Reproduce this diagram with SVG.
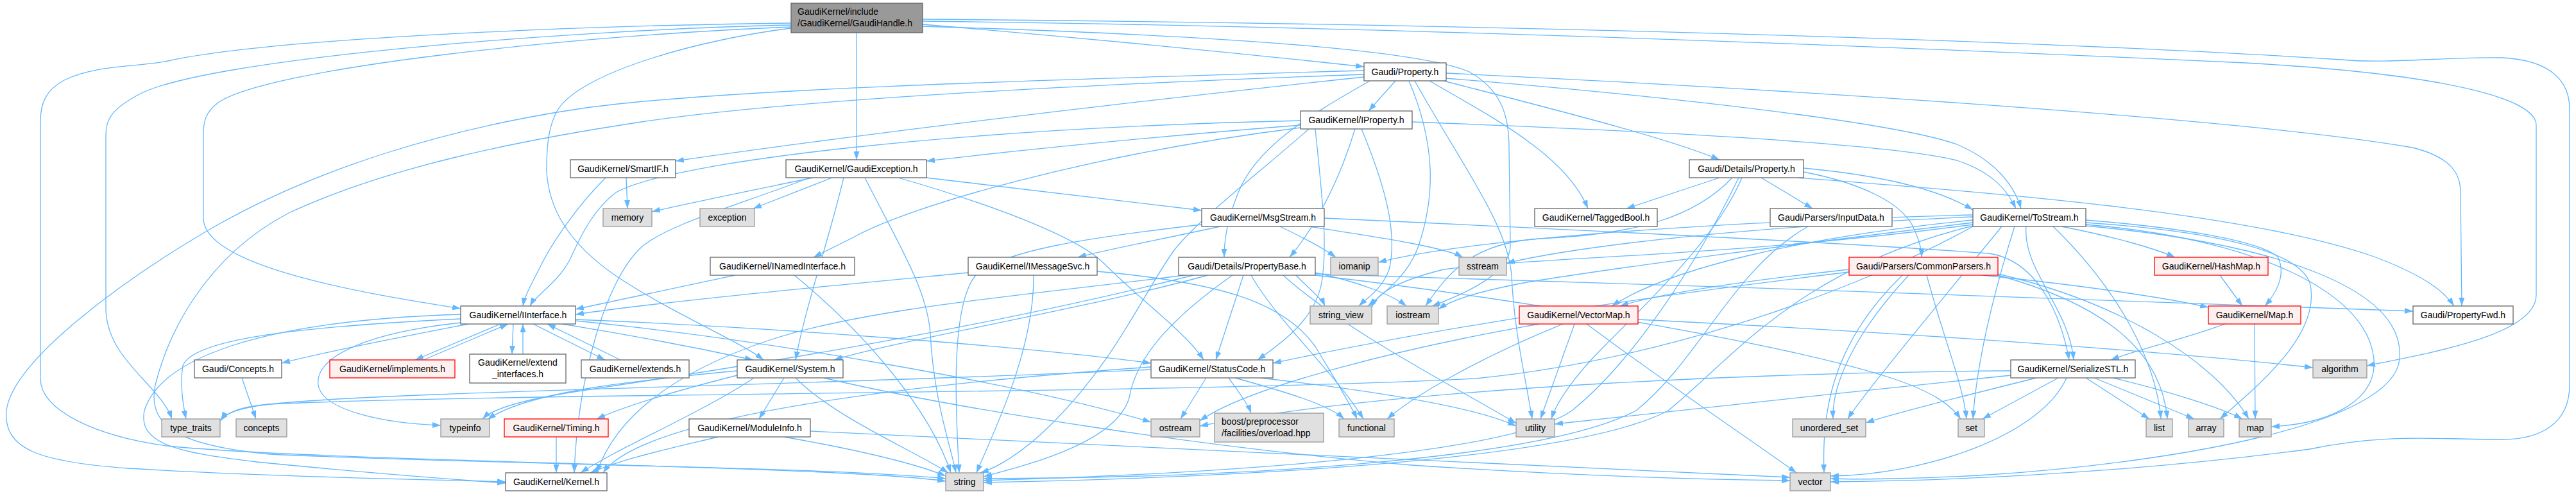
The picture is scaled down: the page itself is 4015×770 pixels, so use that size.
<svg xmlns="http://www.w3.org/2000/svg" width="4015" height="770" viewBox="0 0 4015 770">
<defs>
<style>
.e path{fill:none;stroke:#63b8ff;stroke-width:1.3;marker-end:url(#ah)}
.nd rect{fill:#fff;stroke:#666;stroke-width:1.3}
.gr rect{fill:#e0e0e0;stroke:#999;stroke-width:1.3}
.rd rect{fill:#fff0f0;stroke:#f00;stroke-width:1.3}
.rt rect{fill:#999;stroke:#666;stroke-width:1.3}
text{font-family:"Liberation Sans",Arial,Helvetica,sans-serif;font-size:14px;fill:#000}
.c{text-anchor:middle}
</style>
<marker id="ah" viewBox="0 0 13 9" refX="13" refY="4.5" markerWidth="13" markerHeight="9" markerUnits="userSpaceOnUse" orient="auto"><path d="M0,0L13,4.5L0,9z" fill="#63b8ff" stroke="none"/></marker>
</defs>
<rect x="0" y="0" width="4015" height="770" fill="#fff"/>
<g id="edges" class="e">
<path d="M1438,38 C1700,60 1950,85 2126,104"/>
<path d="M1335,51 L1335,249"/>
<path d="M1233,42 C900,55 420,105 340,160 C320,175 317,190 317,210 L317,340 C317,420 600,462 718,481"/>
<path d="M1233,44 C1100,60 910,110 870,170 C855,195 852,225 852,267 C855,320 880,375 960,430 C1050,490 1150,530 1190,561"/>
<path d="M1438,33 C2200,42 3000,75 3500,98 C3850,118 3953,160 3953,195 L3953,460 C3953,520 3800,548 3689,570"/>
<path d="M1438,30 C2200,36 3100,58 3650,93 C3720,100 3820,88 3900,90 C3980,94 4005,130 4005,170 L4005,600 C4005,660 3960,685 3900,685 C3800,685 3720,675 3600,700 C3300,740 3000,750 2853,751"/>
<path d="M1438,41 C1800,52 2200,72 2290,112 C2340,140 2352,180 2352,230 L2354,380 C2356,425 2290,455 2232,477"/>
<path d="M1233,36 C900,40 420,60 262,95 C215,105 150,100 100,125 C72,140 63,160 63,190 L63,590 C63,640 150,680 260,695 C500,720 1300,725 1474,750"/>
<path d="M1233,39 C900,46 320,90 215,148 C175,170 165,185 165,210 L165,480 C165,560 250,600 268,653"/>
<path d="M2175,126 L2133,173"/>
<path d="M2126,120 C1700,165 1300,215 1053,251"/>
<path d="M2250,126 C2420,170 2600,215 2680,249"/>
<path d="M2228,126 C2320,180 2440,240 2475,325"/>
<path d="M2135,126 C2050,175 1960,225 1930,300 C1912,345 1908,375 1908,401"/>
<path d="M2196,126 C2240,230 2235,310 2212,380 C2198,425 2160,455 2132,477"/>
<path d="M2205,126 C2280,260 2350,350 2356,430 C2360,520 2380,600 2388,653"/>
<path d="M2254,122 C2600,150 2950,190 3050,225 C3110,250 3140,290 3150,325"/>
<path d="M2254,114 C2800,140 3500,185 3760,230 C3820,245 3835,270 3835,300 L3837,477"/>
<path d="M2126,110 C1600,125 1100,140 900,170 C700,200 500,260 340,350 C200,430 20,560 10,640 C5,700 60,720 200,730 C450,745 700,748 788,751"/>
<path d="M2126,116 C1600,135 1200,160 1000,190 C800,220 600,262 450,332 C320,400 262,520 242,600 C228,670 290,695 420,708 C800,725 1300,728 1474,746"/>
<path d="M2027,188 C1500,200 1050,250 960,300 C920,330 900,380 888,405 C870,440 835,460 826,477"/>
<path d="M2027,195 C1800,213 1600,233 1444,251"/>
<path d="M2027,199 C1700,240 1420,320 1330,370 C1300,385 1280,395 1268,401"/>
<path d="M2112,201 C2085,290 2045,360 2010,401"/>
<path d="M2122,201 C2155,280 2180,360 2165,420 C2155,450 2130,465 2118,477"/>
<path d="M2201,190 C2600,205 2950,225 3050,250 C3110,270 3130,300 3142,325"/>
<path d="M2050,201 C2060,300 2070,380 2060,440 C2050,500 1990,540 1960,561"/>
<path d="M2040,201 C1950,280 1870,340 1830,390 C1780,460 1740,560 1640,660 C1590,710 1550,730 1528,737"/>
<path d="M976,277 L978,325"/>
<path d="M944,277 C900,320 860,380 845,410 C830,440 818,460 815,477"/>
<path d="M1267,277 C1180,295 1080,315 1016,330"/>
<path d="M1297,277 L1174,325"/>
<path d="M1444,277 L1873,328"/>
<path d="M1262,277 C1150,320 1040,350 1000,385 C940,440 900,600 895,737"/>
<path d="M1315,277 C1290,380 1255,480 1240,561"/>
<path d="M1400,277 C1550,320 1680,370 1720,410 C1780,470 1850,520 1876,561"/>
<path d="M1348,277 C1400,380 1445,450 1450,520 C1455,620 1480,690 1490,737"/>
<path d="M2680,277 L2535,325"/>
<path d="M2745,277 L2825,325"/>
<path d="M2811,262 C2950,275 3030,300 3075,327"/>
<path d="M2802,277 C3100,300 3500,330 3700,400 C3780,430 3810,455 3825,477"/>
<path d="M2811,268 C2900,285 2960,315 2980,350 C2990,370 2995,385 2995,401"/>
<path d="M2700,277 C2640,340 2550,365 2400,372 C2300,378 2260,420 2222,477"/>
<path d="M2715,277 C2680,360 2600,440 2500,540 C2450,590 2425,630 2418,653"/>
<path d="M2710,277 C2650,400 2550,560 2450,640 C2350,710 1900,738 1533,749"/>
<path d="M1902,353 C1800,375 1720,390 1680,401"/>
<path d="M1873,350 C1700,370 1560,390 1520,430 C1480,480 1490,650 1495,737"/>
<path d="M1995,353 C2030,370 2060,385 2082,401"/>
<path d="M2040,353 C2150,370 2250,385 2280,401"/>
<path d="M2064,340 C2500,360 2900,380 3100,395 C3170,405 3210,480 3225,561"/>
<path d="M3213,353 C3300,370 3360,388 3390,401"/>
<path d="M3251,343 C3400,355 3520,375 3550,400 C3565,430 3545,460 3530,477"/>
<path d="M3158,353 C3152,420 3225,480 3232,561"/>
<path d="M3075,343 C2800,370 2600,420 2512,477"/>
<path d="M3075,335 C2700,345 2300,370 2148,409"/>
<path d="M3075,338 C2800,350 2500,375 2348,410"/>
<path d="M3075,347 C2800,380 2500,420 2380,440 C2300,455 2262,468 2242,482"/>
<path d="M3075,350 C2700,400 2400,400 2250,420 C2170,440 2145,460 2138,479"/>
<path d="M3075,352 C2800,420 2700,560 2600,640 C2450,720 1900,745 1533,752"/>
<path d="M3075,353 C2900,450 2600,560 2300,590 C1800,615 800,612 420,630 C370,634 352,645 343,656"/>
<path d="M3120,353 C3000,500 2900,620 2880,653"/>
<path d="M3140,353 C3100,480 3080,580 3075,653"/>
<path d="M3200,353 C3300,450 3360,560 3368,653"/>
<path d="M3251,347 C3450,360 3580,390 3600,440 C3620,520 3520,600 3460,653"/>
<path d="M3251,350 C3500,370 3690,450 3700,560 C3705,620 3640,660 3540,665"/>
<path d="M3251,352 C3550,380 3750,450 3740,560 C3730,660 3400,720 3100,740 C3000,746 2900,748 2853,746"/>
<path d="M1145,429 C1050,450 950,470 897,482"/>
<path d="M1238,429 C1350,520 1450,640 1482,737"/>
<path d="M1509,425 C1300,445 1050,468 897,490"/>
<path d="M1611,429 C1612,550 1545,680 1522,737"/>
<path d="M1710,423 C1900,440 2000,470 2050,540 C2080,590 2105,630 2115,653"/>
<path d="M1847,429 C1600,460 1350,480 1200,530 C1050,580 960,650 930,737"/>
<path d="M1882,429 C1700,480 1400,530 1300,561"/>
<path d="M1921,429 C1820,500 1770,560 1760,620 C1740,690 1600,725 1533,743"/>
<path d="M1938,429 L1895,561"/>
<path d="M1950,429 C1990,500 2080,580 2125,653"/>
<path d="M2020,429 C2040,450 2060,465 2065,477"/>
<path d="M2050,425 C2120,440 2170,460 2192,477"/>
<path d="M2050,427 C2600,445 3300,465 3761,485"/>
<path d="M2050,429 C2400,470 2800,540 2950,590 C3010,610 3040,630 3056,653"/>
<path d="M2000,429 C2100,520 2300,620 2363,660"/>
<path d="M1860,429 C1500,520 1100,580 900,610 C800,625 765,640 752,653"/>
<path d="M2882,420 C2700,440 2580,460 2525,477"/>
<path d="M3090,429 C3250,445 3380,465 3442,479"/>
<path d="M3003,429 C3030,530 3060,600 3065,653"/>
<path d="M3114,429 C3300,480 3370,560 3378,653"/>
<path d="M3114,427 C3300,470 3450,560 3505,653"/>
<path d="M2975,429 C2890,520 2855,600 2857,653"/>
<path d="M2965,429 C2850,540 2840,650 2843,737"/>
<path d="M2882,424 C2500,470 2200,520 1984,566"/>
<path d="M3460,429 L3495,477"/>
<path d="M730,505 C600,530 500,550 439,566"/>
<path d="M780,505 L647,561"/>
<path d="M800,505 L798,552"/>
<path d="M831,505 L943,561"/>
<path d="M718,503 C560,520 490,560 496,600 C502,640 600,660 687,663"/>
<path d="M718,497 C450,510 300,530 285,570 C280,600 285,630 290,653"/>
<path d="M718,490 C400,500 250,560 225,640 C215,690 270,705 400,720 C600,740 720,748 788,753"/>
<path d="M876,505 C1000,525 1100,545 1174,561"/>
<path d="M897,498 C1200,510 1600,540 1794,566"/>
<path d="M897,500 C1200,530 1600,600 1794,658"/>
<path d="M660,561 L792,505"/>
<path d="M815,552 L815,505"/>
<path d="M967,561 L853,505"/>
<path d="M2553,498 C3000,520 3400,550 3605,573"/>
<path d="M2436,505 C2300,560 2200,620 2162,653"/>
<path d="M2454,505 L2401,653"/>
<path d="M2473,505 C2600,600 2750,700 2800,737"/>
<path d="M2399,505 C2200,540 1950,600 1870,656"/>
<path d="M3468,505 C3400,530 3330,545 3290,561"/>
<path d="M3514,505 L3515,653"/>
<path d="M377,589 L399,653"/>
<path d="M1222,589 L1183,653"/>
<path d="M1149,585 C1050,610 970,635 930,653"/>
<path d="M1149,578 C1000,592 820,610 760,654"/>
<path d="M1175,589 C1100,640 960,700 905,737"/>
<path d="M1240,589 C1300,650 1420,700 1478,737"/>
<path d="M1284,589 C1500,640 1900,700 2200,725 C2500,745 2700,748 2790,749"/>
<path d="M1915,589 C1930,610 1945,630 1950,644"/>
<path d="M1880,589 L1840,653"/>
<path d="M1925,589 C2000,610 2070,630 2095,653"/>
<path d="M1964,589 C2150,610 2300,635 2363,664"/>
<path d="M1794,572 C1400,600 1000,650 940,737"/>
<path d="M1794,576 C1300,600 600,610 420,630 C370,636 350,645 345,655"/>
<path d="M3134,578 C2800,580 2200,600 1870,664"/>
<path d="M3134,585 C2900,610 2600,640 2423,661"/>
<path d="M3174,589 C3050,620 2950,645 2908,659"/>
<path d="M3208,589 L3090,653"/>
<path d="M3221,589 C3180,680 3000,740 2853,742"/>
<path d="M3251,589 L3350,653"/>
<path d="M3264,589 L3420,653"/>
<path d="M3293,589 C3380,610 3460,635 3495,653"/>
<path d="M867,681 L867,737"/>
<path d="M1119,681 C1040,700 970,715 920,737"/>
<path d="M1222,681 C1330,700 1420,720 1474,742"/>
<path d="M1263,672 C1700,690 2400,730 2790,744"/>
<path d="M2818,353 C2700,420 2650,560 2550,640 C2400,720 1900,745 1533,746"/>
</g>
<g id="n-root" class="rt"><rect x="1233" y="5" width="205" height="46"/><text x="1243" y="23">GaudiKernel/include</text><text x="1243" y="41">/GaudiKernel/GaudiHandle.h</text></g>
<g id="n-property" class="nd"><rect x="2126" y="98" width="128" height="28"/><text class="c" x="2190" y="117">Gaudi/Property.h</text></g>
<g id="n-iproperty" class="nd"><rect x="2027" y="173" width="174" height="28"/><text class="c" x="2114" y="192">GaudiKernel/IProperty.h</text></g>
<g id="n-smartif" class="nd"><rect x="889" y="249" width="164" height="28"/><text class="c" x="971" y="268">GaudiKernel/SmartIF.h</text></g>
<g id="n-gaudiexception" class="nd"><rect x="1225" y="249" width="219" height="28"/><text class="c" x="1334.5" y="268">GaudiKernel/GaudiException.h</text></g>
<g id="n-detproperty" class="nd"><rect x="2633" y="249" width="178" height="28"/><text class="c" x="2722" y="268">Gaudi/Details/Property.h</text></g>
<g id="n-memory" class="gr"><rect x="940" y="325" width="76" height="28"/><text class="c" x="978" y="344">memory</text></g>
<g id="n-exception" class="gr"><rect x="1091" y="325" width="85" height="28"/><text class="c" x="1133.5" y="344">exception</text></g>
<g id="n-msgstream" class="nd"><rect x="1873" y="325" width="191" height="28"/><text class="c" x="1968.5" y="344">GaudiKernel/MsgStream.h</text></g>
<g id="n-taggedbool" class="nd"><rect x="2392" y="325" width="191" height="28"/><text class="c" x="2487.5" y="344">GaudiKernel/TaggedBool.h</text></g>
<g id="n-inputdata" class="nd"><rect x="2759" y="325" width="190" height="28"/><text class="c" x="2854" y="344">Gaudi/Parsers/InputData.h</text></g>
<g id="n-tostream" class="nd"><rect x="3075" y="325" width="176" height="28"/><text class="c" x="3163" y="344">GaudiKernel/ToStream.h</text></g>
<g id="n-inamedinterface" class="nd"><rect x="1107" y="401" width="225" height="28"/><text class="c" x="1219.5" y="420">GaudiKernel/INamedInterface.h</text></g>
<g id="n-imessagesvc" class="nd"><rect x="1509" y="401" width="201" height="28"/><text class="c" x="1609.5" y="420">GaudiKernel/IMessageSvc.h</text></g>
<g id="n-propertybase" class="nd"><rect x="1837" y="401" width="213" height="28"/><text class="c" x="1943.5" y="420">Gaudi/Details/PropertyBase.h</text></g>
<g id="n-iomanip" class="gr"><rect x="2074" y="401" width="74" height="28"/><text class="c" x="2111" y="420">iomanip</text></g>
<g id="n-sstream" class="gr"><rect x="2274" y="401" width="74" height="28"/><text class="c" x="2311" y="420">sstream</text></g>
<g id="n-commonparsers" class="rd"><rect x="2882" y="401" width="232" height="28"/><text class="c" x="2998" y="420">Gaudi/Parsers/CommonParsers.h</text></g>
<g id="n-hashmap" class="rd"><rect x="3358" y="401" width="177" height="28"/><text class="c" x="3446.5" y="420">GaudiKernel/HashMap.h</text></g>
<g id="n-iinterface" class="nd"><rect x="718" y="477" width="179" height="28"/><text class="c" x="807.5" y="496">GaudiKernel/IInterface.h</text></g>
<g id="n-string_view" class="gr"><rect x="2042" y="477" width="96" height="28"/><text class="c" x="2090" y="496">string_view</text></g>
<g id="n-iostream" class="gr"><rect x="2162" y="477" width="80" height="28"/><text class="c" x="2202" y="496">iostream</text></g>
<g id="n-vectormap" class="rd"><rect x="2368" y="477" width="185" height="28"/><text class="c" x="2460.5" y="496">GaudiKernel/VectorMap.h</text></g>
<g id="n-map-h" class="rd"><rect x="3442" y="477" width="144" height="28"/><text class="c" x="3514" y="496">GaudiKernel/Map.h</text></g>
<g id="n-propertyfwd" class="nd"><rect x="3761" y="477" width="156" height="28"/><text class="c" x="3839" y="496">Gaudi/PropertyFwd.h</text></g>
<g id="n-concepts-h" class="nd"><rect x="303" y="561" width="136" height="28"/><text class="c" x="371" y="580">Gaudi/Concepts.h</text></g>
<g id="n-implements" class="rd"><rect x="514" y="561" width="195" height="28"/><text class="c" x="611.5" y="580">GaudiKernel/implements.h</text></g>
<g id="n-extend_interfaces" class="nd"><rect x="732" y="552" width="150" height="45"/><text class="c" x="807" y="570">GaudiKernel/extend</text><text class="c" x="807" y="588">_interfaces.h</text></g>
<g id="n-extends" class="nd"><rect x="906" y="561" width="168" height="28"/><text class="c" x="990" y="580">GaudiKernel/extends.h</text></g>
<g id="n-system" class="nd"><rect x="1149" y="561" width="165" height="28"/><text class="c" x="1231.5" y="580">GaudiKernel/System.h</text></g>
<g id="n-statuscode" class="nd"><rect x="1794" y="561" width="190" height="28"/><text class="c" x="1889" y="580">GaudiKernel/StatusCode.h</text></g>
<g id="n-serializestl" class="nd"><rect x="3134" y="561" width="194" height="28"/><text class="c" x="3231" y="580">GaudiKernel/SerializeSTL.h</text></g>
<g id="n-algorithm" class="gr"><rect x="3605" y="561" width="84" height="28"/><text class="c" x="3647" y="580">algorithm</text></g>
<g id="n-type_traits" class="gr"><rect x="252" y="653" width="91" height="28"/><text class="c" x="297.5" y="672">type_traits</text></g>
<g id="n-concepts" class="gr"><rect x="368" y="653" width="79" height="28"/><text class="c" x="407.5" y="672">concepts</text></g>
<g id="n-typeinfo" class="gr"><rect x="687" y="653" width="76" height="28"/><text class="c" x="725" y="672">typeinfo</text></g>
<g id="n-timing" class="rd"><rect x="786" y="653" width="162" height="28"/><text class="c" x="867" y="672">GaudiKernel/Timing.h</text></g>
<g id="n-moduleinfo" class="nd"><rect x="1074" y="653" width="189" height="28"/><text class="c" x="1168.5" y="672">GaudiKernel/ModuleInfo.h</text></g>
<g id="n-ostream" class="gr"><rect x="1794" y="653" width="76" height="28"/><text class="c" x="1832" y="672">ostream</text></g>
<g id="n-boost" class="gr"><rect x="1893" y="644" width="170" height="45"/><text x="1904" y="662">boost/preprocessor</text><text x="1904" y="680">/facilities/overload.hpp</text></g>
<g id="n-functional" class="gr"><rect x="2087" y="653" width="86" height="28"/><text class="c" x="2130" y="672">functional</text></g>
<g id="n-utility" class="gr"><rect x="2363" y="653" width="60" height="28"/><text class="c" x="2393" y="672">utility</text></g>
<g id="n-unordered_set" class="gr"><rect x="2794" y="653" width="114" height="28"/><text class="c" x="2851" y="672">unordered_set</text></g>
<g id="n-set" class="gr"><rect x="3052" y="653" width="41" height="28"/><text class="c" x="3072.5" y="672">set</text></g>
<g id="n-list" class="gr"><rect x="3345" y="653" width="41" height="28"/><text class="c" x="3365.5" y="672">list</text></g>
<g id="n-array" class="gr"><rect x="3411" y="653" width="55" height="28"/><text class="c" x="3438.5" y="672">array</text></g>
<g id="n-map" class="gr"><rect x="3490" y="653" width="50" height="28"/><text class="c" x="3515" y="672">map</text></g>
<g id="n-kernel" class="nd"><rect x="788" y="737" width="158" height="28"/><text class="c" x="867" y="756">GaudiKernel/Kernel.h</text></g>
<g id="n-string" class="gr"><rect x="1474" y="737" width="59" height="28"/><text class="c" x="1503.5" y="756">string</text></g>
<g id="n-vector" class="gr"><rect x="2790" y="737" width="63" height="28"/><text class="c" x="2821.5" y="756">vector</text></g>
</svg>
